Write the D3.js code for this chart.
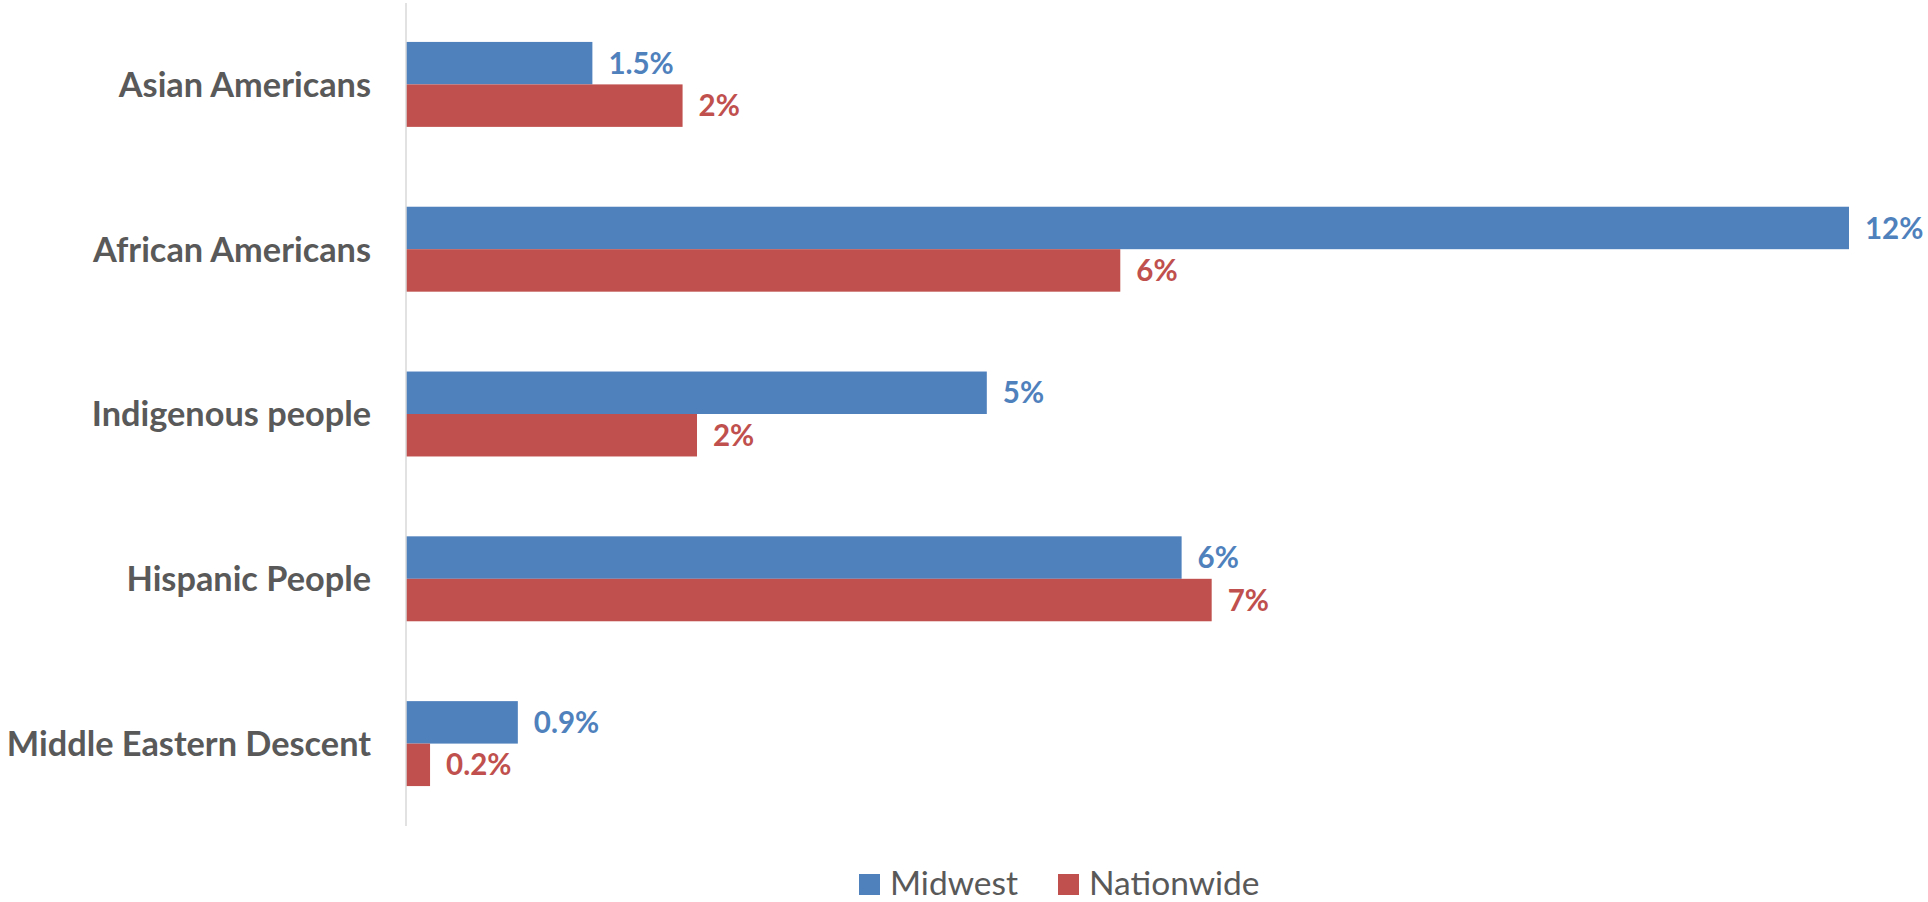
<!DOCTYPE html>
<html>
<head>
<meta charset="utf-8">
<script src="https://cdnjs.cloudflare.com/ajax/libs/d3/7.8.5/d3.min.js"></script>
<style>
    html, body { margin: 0; padding: 0; background: #ffffff; }
    svg { display: block; }
    .cat { font-family: Lato, "Open Sans", sans-serif; font-weight: bold; fill: #595959; }
    .val { font-family: Lato, "Open Sans", sans-serif; font-weight: bold; }
    .legend text { font-family: Lato, "Open Sans", sans-serif; fill: #595959; }
</style>
</head>
<body>
<div id="chart"></div>
<script>
// values (percent)
var categories = ["Asian Americans", "African Americans", "Indigenous people", "Hispanic People", "Middle Eastern Descent"];
var seriesNames = ["Midwest", "Nationwide"];
var midwest = [1.55, 12.0, 4.83, 6.45, 0.93];
var nationwide = [2.30, 5.94, 2.42, 6.70, 0.20];
var midwestLabels = ["1.5%", "12%", "5%", "6%", "0.9%"];
var nationwideLabels = ["2%", "6%", "2%", "7%", "0.2%"];
var colors = ["#4F81BD", "#C0504D"];

var width = 1928, height = 902;
var plot = {left: 406, right: 1849, top: 2, bottom: 826};

var svg = d3.select("#chart").append("svg")
    .attr("width", width)
    .attr("height", height);

var y0 = d3.scaleBand()
    .domain(categories)
    .range([plot.top, plot.bottom]);

var y1 = d3.scaleBand()
    .domain(seriesNames)
    .range([0, y0.bandwidth()])
    .paddingOuter(0.94);

var x = d3.scaleLinear()
    .domain([0, 12])
    .range([plot.left, plot.right]);

var rows = categories.map(function (c, i) {
    return {
        cat: c,
        bars: [
            {name: seriesNames[0], value: midwest[i], label: midwestLabels[i], color: colors[0]},
            {name: seriesNames[1], value: nationwide[i], label: nationwideLabels[i], color: colors[1]}
        ]
    };
});

var groups = svg.append("g").attr("class", "bars")
    .selectAll("g")
    .data(rows)
    .enter().append("g")
    .attr("transform", function (d) { return "translate(0," + y0(d.cat) + ")"; });

groups.selectAll("rect")
    .data(function (d) { return d.bars; })
    .enter().append("rect")
    .attr("x", x(0))
    .attr("y", function (d) { return y1(d.name); })
    .attr("width", function (d) { return x(d.value) - x(0); })
    .attr("height", y1.bandwidth())
    .attr("fill", function (d) { return d.color; });

groups.selectAll("text.val")
    .data(function (d) { return d.bars; })
    .enter().append("text")
    .attr("class", "val")
    .attr("x", function (d) { return x(d.value) + 16; })
    .attr("y", function (d) { return y1(d.name) + y1.bandwidth() / 2; })
    .attr("dy", "0.36em")
    .attr("font-size", 29.5)
    .attr("fill", function (d) { return d.color; })
    .text(function (d) { return d.label; });

// category axis, no ticks, only the light vertical line
var yAxis = d3.axisLeft(y0).tickSize(0).tickPadding(35);
var axisG = svg.append("g")
    .attr("transform", "translate(" + plot.left + ",0)")
    .call(yAxis);
axisG.select(".domain").remove();
axisG.selectAll("text")
    .attr("class", "cat")
    .attr("font-size", 34.3)
    .attr("dy", "0.36em");

svg.append("line")
    .attr("x1", plot.left)
    .attr("x2", plot.left)
    .attr("y1", plot.top + 1)
    .attr("y2", plot.bottom)
    .attr("stroke", "#D9D9D9")
    .attr("stroke-width", 1.5);

// legend
var legendX = [859, 1058];
var legend = svg.append("g").attr("class", "legend");
seriesNames.forEach(function (name, i) {
    legend.append("rect")
        .attr("x", legendX[i])
        .attr("y", 874)
        .attr("width", 21)
        .attr("height", 21)
        .attr("fill", colors[i]);
    legend.append("text")
        .attr("x", legendX[i] + 31)
        .attr("y", 895)
        .attr("font-size", 33.5)
        .text(name);
});
</script>
</body>
</html>
